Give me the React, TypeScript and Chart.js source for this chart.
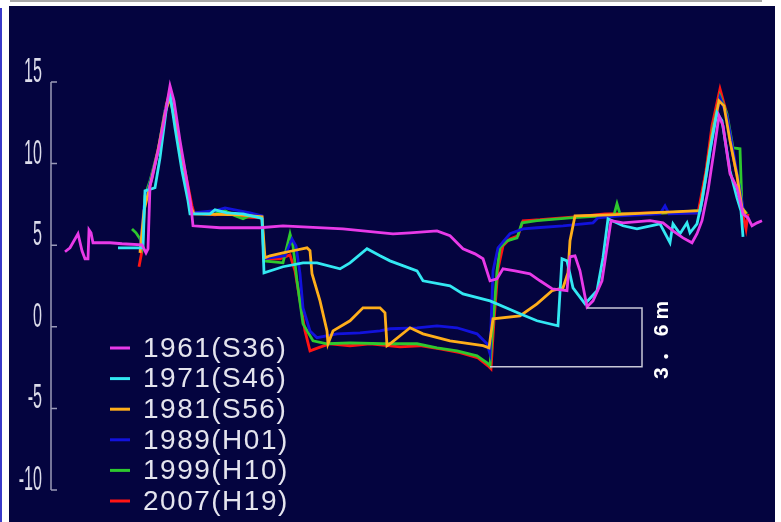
import React, { useEffect, useRef } from "react";
import { Chart, registerables } from "chart.js";

Chart.register(...registerables);

// distance along the river section (arbitrary units), riverbed elevation (m)
const dist1961 = [14, 19, 27, 31, 34, 37, 38, 40, 42, 59, 71, 91, 95, 97, 99, 101, 106, 108, 113, 119, 123, 129, 135, 140, 142, 169, 209, 232, 292, 342, 359, 386, 399, 412, 424, 432, 439, 446, 452, 464, 479, 489, 501, 516, 519, 524, 529, 536, 542, 551, 557, 560, 572, 599, 612, 622, 632, 641, 646, 651, 657, 663, 668, 672, 679, 686, 692, 697, 701, 706, 711];
const elev1961 = [4.6, 4.84, 5.7, 4.66, 4.17, 4.17, 5.94, 5.76, 5.15, 5.15, 5.09, 5.02, 4.53, 4.78, 8.64, 9.07, 10.48, 11.03, 12.62, 14.77, 13.85, 11.4, 9.25, 7.41, 6.19, 6.07, 6.07, 6.19, 6.0, 5.7, 5.76, 5.88, 5.58, 4.78, 4.47, 4.17, 2.82, 2.94, 3.55, 3.43, 3.25, 2.82, 2.33, 2.21, 4.29, 4.35, 3.43, 1.22, 1.59, 2.82, 5.27, 6.5, 6.37, 6.5, 6.37, 5.88, 5.45, 5.15, 5.7, 6.5, 8.33, 10.78, 12.93, 12.32, 9.38, 8.52, 6.92, 6.68, 6.19, 6.37, 6.5];

const dist1971 = [67, 92, 94, 104, 109, 116, 119, 124, 131, 137, 139, 159, 164, 176, 192, 209, 211, 213, 232, 252, 266, 289, 299, 316, 329, 339, 366, 372, 399, 412, 439, 469, 486, 507, 511, 516, 522, 534, 546, 552, 557, 572, 586, 609, 619, 622, 629, 636, 639, 646, 651, 659, 666, 671, 679, 686, 690, 692];
const elev1971 = [4.84, 4.84, 8.33, 8.52, 10.35, 13.66, 14.28, 12.19, 9.56, 7.72, 6.92, 6.92, 7.17, 6.98, 6.92, 6.68, 6.62, 3.31, 3.68, 3.92, 3.92, 3.55, 3.92, 4.78, 4.35, 4.04, 3.43, 2.82, 2.51, 2.02, 1.59, 0.8, 0.37, 0.06, 4.17, 4.04, 2.39, 1.41, 2.21, 4.23, 6.62, 6.19, 6.0, 6.31, 5.15, 6.31, 5.7, 6.37, 5.76, 6.31, 7.72, 10.78, 13.11, 12.62, 9.56, 7.9, 7.11, 5.51];

const dist1981 = [89, 93, 99, 107, 114, 119, 126, 134, 140, 143, 189, 211, 214, 219, 232, 242, 256, 259, 261, 269, 276, 277, 282, 299, 312, 329, 334, 336, 339, 359, 372, 399, 432, 438, 442, 469, 486, 501, 512, 517, 519, 524, 559, 599, 649, 655, 661, 668, 673, 679, 686, 691, 695];
const elev1981 = [4.53, 7.11, 8.64, 10.78, 13.11, 14.03, 12.01, 9.44, 7.29, 6.92, 6.86, 6.74, 4.23, 4.35, 4.53, 4.66, 4.84, 4.66, 3.25, 1.59, -0.25, -1.04, -0.25, 0.37, 1.16, 1.16, 0.86, -1.16, -1.04, -0.06, -0.43, -0.86, -1.16, -1.29, 0.49, 0.67, 1.41, 2.21, 2.39, 3.31, 5.27, 6.8, 6.86, 6.98, 7.11, 9.25, 11.7, 13.85, 13.54, 11.4, 9.25, 7.29, 6.92];

const dist1989 = [89, 93, 99, 107, 114, 119, 126, 133, 139, 142, 164, 174, 199, 211, 213, 234, 241, 245, 249, 252, 259, 266, 286, 309, 329, 339, 366, 386, 406, 426, 436, 439, 442, 447, 459, 472, 486, 512, 542, 547, 569, 609, 614, 618, 649, 656, 663, 669, 676, 683, 689, 693];
const elev1989 = [4.66, 7.41, 8.82, 10.78, 13.24, 14.15, 12.13, 9.56, 7.41, 6.98, 7.11, 7.29, 6.98, 6.8, 4.17, 4.35, 5.39, 4.96, 3.25, 1.16, -0.25, -0.67, -0.43, -0.37, -0.25, -0.12, -0.06, 0.06, -0.06, -0.43, -1.04, -1.65, 3.43, 4.84, 5.7, 6.0, 6.07, 6.19, 6.37, 6.68, 6.8, 6.92, 7.41, 6.92, 6.98, 9.44, 12.32, 14.03, 12.93, 10.48, 8.33, 6.92];

const dist1999 = [81, 85, 89, 91, 94, 99, 107, 114, 119, 125, 132, 139, 142, 164, 174, 184, 192, 199, 211, 213, 232, 239, 242, 246, 252, 262, 276, 299, 332, 366, 386, 406, 426, 436, 439, 442, 446, 449, 456, 466, 471, 486, 519, 552, 563, 566, 569, 599, 649, 656, 662, 669, 676, 682, 689, 691, 696];
const elev1999 = [6.0, 5.76, 5.39, 4.96, 8.03, 8.95, 10.78, 13.24, 14.34, 12.32, 9.56, 7.41, 6.98, 6.92, 7.11, 6.8, 6.62, 6.8, 6.74, 4.04, 3.92, 5.7, 4.96, 2.82, 0.18, -0.86, -1.04, -0.98, -1.04, -1.04, -1.29, -1.47, -1.78, -2.21, -2.39, 0.18, 3.43, 4.84, 5.27, 5.45, 6.37, 6.5, 6.68, 6.8, 6.86, 7.54, 6.92, 6.92, 7.11, 9.56, 12.19, 14.15, 13.05, 10.97, 10.91, 7.29, 6.92];

const dist2007 = [88, 91, 94, 101, 109, 115, 119, 127, 134, 141, 143, 164, 179, 189, 211, 213, 229, 239, 244, 249, 254, 259, 267, 279, 299, 319, 349, 369, 389, 409, 427, 437, 440, 443, 447, 452, 459, 467, 472, 489, 524, 554, 599, 647, 655, 661, 669, 675, 681, 687, 691, 695, 697];
const elev2007 = [3.68, 4.66, 7.72, 9.25, 11.4, 13.54, 14.46, 11.7, 9.56, 7.41, 6.98, 6.86, 6.98, 6.74, 6.68, 4.17, 4.17, 4.41, 3.43, 1.59, -0.25, -1.47, -1.29, -1.04, -1.16, -1.04, -1.23, -1.16, -1.35, -1.59, -1.9, -2.39, -2.57, 0.37, 3.55, 4.96, 5.39, 5.58, 6.5, 6.56, 6.74, 6.92, 6.98, 6.98, 9.56, 12.32, 14.58, 13.24, 10.78, 8.95, 7.11, 6.0, 6.92];

const seriesLabels = ["1961(S36)", "1971(S46)", "1981(S56)", "1989(H01)", "1999(H10)", "2007(H19)"];
const seriesColors = ["#e83ae8", "#33e8f2", "#ffae1a", "#1212dc", "#2ec82e", "#ff1414"];
const seriesDist = [dist1961, dist1971, dist1981, dist1989, dist1999, dist2007];
const seriesElev = [elev1961, elev1971, elev1981, elev1989, elev1999, elev2007];

const yTicks = [15, 10, 5, 0, -5, -10];
const yTickLabels = ["15", "10", "5", "0", "-5", "-10"];

// 3.6 m annotation
const annotTopDist = 536;
const annotTopElev = 1.15;
const annotBottomDist = 439;
const annotBottomElev = -2.45;
const annotBracketDist = 591;
const annotText = "3．6m";

const NAVY = "#04043f";

const framePlugin = {
  id: "frame",
  beforeDraw(chart: any) {
    const ctx = chart.ctx;
    ctx.save();
    ctx.fillStyle = "#ffffff";
    ctx.fillRect(0, 0, chart.width, chart.height);
    ctx.fillStyle = "#a8a8a8";
    ctx.fillRect(10, 0, 752, 2);
    ctx.fillStyle = "#3a3ac8";
    ctx.fillRect(0, 8, 2, chart.height - 8);
    ctx.fillStyle = NAVY;
    ctx.fillRect(9, 6, 766, chart.height - 6);
    ctx.restore();
  },
};

const axisPlugin = {
  id: "customAxis",
  beforeDatasetsDraw(chart: any) {
    const ctx = chart.ctx;
    const y = chart.scales.y;
    const x0 = chart.chartArea.left;
    ctx.save();
    ctx.strokeStyle = "#9a9ab8";
    ctx.lineWidth = 1.5;
    ctx.beginPath();
    ctx.moveTo(x0, y.getPixelForValue(yTicks[0]));
    ctx.lineTo(x0, y.getPixelForValue(yTicks[yTicks.length - 1]));
    yTicks.forEach((t) => {
      const py = y.getPixelForValue(t);
      ctx.moveTo(x0, py);
      ctx.lineTo(x0 + 6, py);
    });
    ctx.stroke();
    ctx.fillStyle = "#dcdcea";
    ctx.font = "35px 'Liberation Sans', Arial, sans-serif";
    ctx.textAlign = "right";
    ctx.textBaseline = "alphabetic";
    yTicks.forEach((t, i) => {
      const py = y.getPixelForValue(t);
      ctx.save();
      ctx.translate(x0 - 9, py);
      ctx.scale(0.46, 1);
      ctx.fillText(yTickLabels[i], 0, 0);
      ctx.restore();
    });
    ctx.restore();
  },
};

const overlayPlugin = {
  id: "overlay",
  afterDatasetsDraw(chart: any) {
    const ctx = chart.ctx;
    const xs = chart.scales.x;
    const ys = chart.scales.y;
    ctx.save();
    // annotation bracket
    const xt = xs.getPixelForValue(annotTopDist);
    const yt = ys.getPixelForValue(annotTopElev);
    const xb = xs.getPixelForValue(annotBottomDist);
    const yb = ys.getPixelForValue(annotBottomElev);
    const xr = xs.getPixelForValue(annotBracketDist);
    ctx.strokeStyle = "#c8c8d8";
    ctx.lineWidth = 1.5;
    ctx.beginPath();
    ctx.moveTo(xt, yt);
    ctx.lineTo(xr, yt);
    ctx.lineTo(xr, yb);
    ctx.lineTo(xb, yb);
    ctx.stroke();
    ctx.save();
    ctx.translate(xr + 20, (yt + yb) / 2);
    ctx.rotate(-Math.PI / 2);
    ctx.fillStyle = "#ffffff";
    ctx.font = "bold 21px 'Liberation Sans', 'Noto Sans CJK JP', sans-serif";
    (ctx as any).letterSpacing = "5px";
    ctx.textAlign = "center";
    ctx.textBaseline = "middle";
    ctx.fillText(annotText, 0, 0);
    ctx.restore();

    // legend
    const legendTop = 348;
    const legendStep = 30.6;
    ctx.font = "28px 'Liberation Sans', Arial, sans-serif";
    (ctx as any).letterSpacing = "1.5px";
    ctx.textAlign = "left";
    ctx.textBaseline = "middle";
    chart.data.datasets.forEach((ds: any, i: number) => {
      const ly = legendTop + i * legendStep;
      ctx.strokeStyle = ds.borderColor;
      ctx.lineWidth = 3;
      ctx.beginPath();
      ctx.moveTo(110, ly);
      ctx.lineTo(130, ly);
      ctx.stroke();
      ctx.fillStyle = "#e4e4ee";
      ctx.fillText(ds.label, 143, ly + 1);
    });
    ctx.restore();
  },
};

export default function App() {
  const ref = useRef<HTMLCanvasElement | null>(null);
  useEffect(() => {
    if (!ref.current) return;
    const datasets = seriesLabels.map((label, i) => ({
      label,
      data: seriesDist[i].map((d, j) => ({ x: d, y: seriesElev[i][j] })),
      borderColor: seriesColors[i],
      backgroundColor: seriesColors[i],
      borderWidth: 2.8,
      pointRadius: 0,
      tension: 0,
      fill: false,
      clip: false as any,
    }));
    const chart = new Chart(ref.current, {
      type: "line",
      data: { datasets },
      options: {
        animation: false,
        responsive: false,
        devicePixelRatio: 1,
        layout: { padding: { left: 51, right: 10, top: 82, bottom: 32 } },
        scales: {
          x: { type: "linear", min: 0, max: 720, display: false },
          y: { type: "linear", min: -10, max: 15, display: false },
        },
        plugins: {
          legend: { display: false },
          tooltip: { enabled: false },
        },
      },
      plugins: [framePlugin, axisPlugin, overlayPlugin],
    });
    return () => chart.destroy();
  }, []);
  return (
    <div style={{ position: "absolute", left: 0, top: 0, width: 781, height: 522 }}>
      <canvas ref={ref} width={781} height={522} style={{ display: "block", width: 781, height: 522 }} />
    </div>
  );
}
